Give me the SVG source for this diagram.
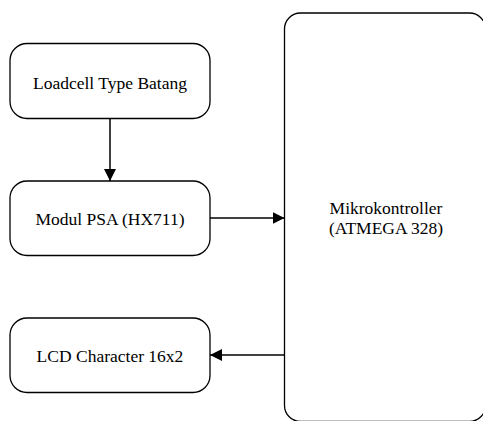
<svg xmlns="http://www.w3.org/2000/svg" width="483" height="421" viewBox="0 0 483 421">
<style>
.box{fill:#fff;stroke:#000;stroke-width:1.3}
.lbl{font-family:"Liberation Serif","Times New Roman",serif;font-size:17.5px;fill:#000;text-anchor:middle}
.con{stroke:#000;stroke-width:1.5;fill:none}
</style>
<defs>
<marker id="ah" markerWidth="12" markerHeight="12" refX="12" refY="6" orient="auto" markerUnits="userSpaceOnUse">
<path d="M0,0 L12,6 L0,12 z" fill="#000"/>
</marker>
</defs>
<rect width="483" height="421" fill="#fff"/>
<g id="mikro">
<rect class="box" x="284.5" y="13" width="201" height="408.5" rx="16" ry="16"/>
<text class="lbl" x="386" y="214">Mikrokontroller</text>
<text class="lbl" x="386" y="234">(ATMEGA 328)</text>
</g>
<g id="loadcell">
<rect class="box" x="10" y="43.5" width="200" height="75" rx="17" ry="17"/>
<text class="lbl" x="110" y="89">Loadcell Type Batang</text>
</g>
<g id="psa">
<rect class="box" x="10" y="181" width="200" height="74.5" rx="17" ry="17"/>
<text class="lbl" x="110" y="224.5">Modul PSA (HX711)</text>
</g>
<g id="lcd">
<rect class="box" x="10" y="318" width="200" height="74.5" rx="17" ry="17"/>
<text class="lbl" x="110" y="361.5">LCD Character 16x2</text>
</g>
<g id="connectors">
<line class="con" x1="110" y1="118.5" x2="110" y2="181" marker-end="url(#ah)"/>
<line class="con" x1="210" y1="218" x2="284.5" y2="218" marker-end="url(#ah)"/>
<line class="con" x1="284.5" y1="355" x2="210" y2="355" marker-end="url(#ah)"/>
</g>
</svg>
